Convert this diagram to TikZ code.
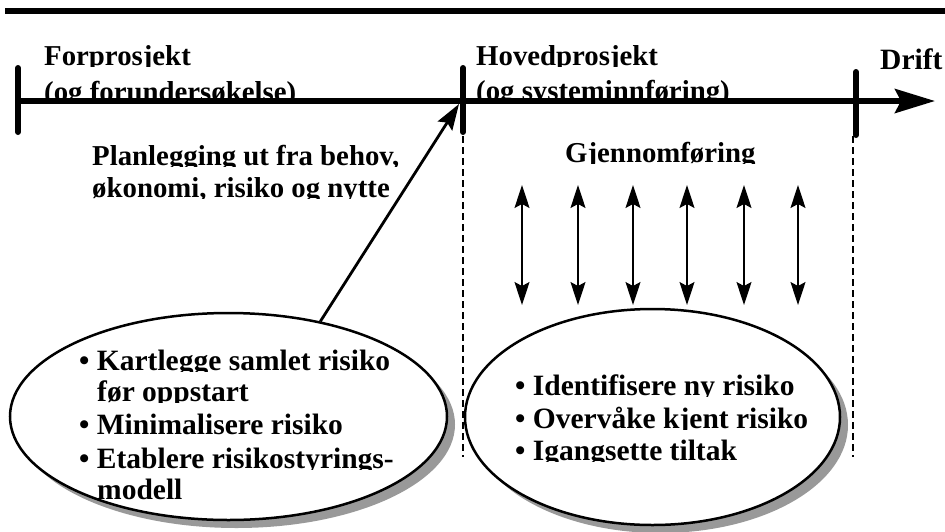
\documentclass[tikz,border=0pt]{standalone}
\usepackage{fontspec}
\setmainfont{Liberation Serif}
\usetikzlibrary{arrows.meta,shapes.geometric,shadows}
\newcommand\cliptxt[5]{%
  \begin{scope}
    \clip (#2-20,#3-45) rectangle (#2+440,#3+1.5);
    \node[#4] (#1) at (#2,#3) {#5};
  \end{scope}}
\begin{document}
\begin{tikzpicture}[x=1pt,y=-1pt,
  lbl/.style={anchor=base west,inner sep=0pt,font=\fontsize{28.8}{30}\selectfont\bfseries},
  elltxt/.style={anchor=base west,inner sep=0pt,font=\fontsize{29.5}{30}\selectfont\bfseries},
  tick/.style={line width=6pt,line cap=round},
  dashline/.style={line width=1.5pt,dash pattern=on 7pt off 4pt},
  bubble/.style={ellipse,draw,line width=2.5pt,fill=white,inner sep=0pt,
    drop shadow={shadow xshift=8pt,shadow yshift=-8pt,fill=black!40,opacity=1}},
  dbl/.style={line width=1.3pt,{Stealth[length=23pt,width=15pt,inset=4pt]}-{Stealth[length=23pt,width=15pt,inset=4pt]}}
]
\useasboundingbox (0,0) rectangle (945,531);
\fill[white] (0,0) rectangle (945,531);
% top bar
\fill[black] (5,8) rectangle (945,14);

% labels above the timeline
\cliptxt{lforp}{44}{65}{lbl}{Forprosjekt}
\cliptxt{lforu}{44}{101}{lbl}{(og forundersøkelse)}
\cliptxt{lhov}{476}{65}{lbl}{Hovedprosjekt}
\cliptxt{lsys}{476}{100}{lbl}{(og systeminnføring)}
\node[lbl,font=\fontsize{29.5}{30}\selectfont\bfseries] (ldrift) at (880,69) {Drift};

% timeline
\coordinate (t0) at (18,101);
\coordinate (tend) at (935,101);
\draw[line width=5.5pt,-{Stealth[length=40pt,width=24pt,inset=6pt]}] (t0) -- (tend);
\coordinate (k1a) at (18,68);  \coordinate (k1b) at (18,132);
\coordinate (k2a) at (463,68); \coordinate (k2b) at (463,132);
\coordinate (k3a) at (856,72); \coordinate (k3b) at (856,135);
\draw[tick] (k1a) -- (k1b);
\draw[tick] (k2a) -- (k2b);
\draw[tick] (k3a) -- (k3b);

% dashed separators
\coordinate (d1a) at (463,136); \coordinate (d1b) at (463,457);
\coordinate (d2a) at (853,136); \coordinate (d2b) at (853,457);
\draw[dashline] (d1a) -- (d1b);
\draw[dashline] (d2a) -- (d2b);

% planning text
\cliptxt{plan1}{92}{165}{lbl}{Planlegging ut fra behov,}
\cliptxt{plan2}{92}{197}{lbl}{økonomi, risiko og nytte}

% Gjennomføring
\cliptxt{gjen}{565}{162}{lbl}{Gjennomføring}
\foreach \i/\x in {1/522,2/578,3/633,4/687,5/744,6/798}{
  \coordinate (a\i t) at (\x,185);
  \coordinate (a\i b) at (\x,305);
  \draw[dbl] (a\i t) -- (a\i b);
}

% ellipses
\node[bubble,minimum width=437pt,minimum height=207pt] (ell1) at (228.5,416.5) {};
\node[bubble,minimum width=375pt,minimum height=216pt] (ell2) at (652.5,417) {};

% arrow from left ellipse to timeline
\coordinate (hit) at (459,104);
\draw[line width=2.8pt,-{Stealth[length=26pt,width=17pt,inset=4pt]}] (ell1.46) -- (hit);

% left ellipse text
\cliptxt{e1a}{79}{370}{elltxt}{• Kartlegge samlet risiko}
\cliptxt{e1b}{97}{401}{elltxt}{før oppstart}
\cliptxt{e1c}{79}{434}{elltxt}{• Minimalisere risiko}
\cliptxt{e1d}{79}{468}{elltxt}{• Etablere risikostyrings-}
\cliptxt{e1e}{97}{499}{elltxt}{modell}

% right ellipse text
\cliptxt{e2a}{515}{395}{elltxt}{• Identifisere ny risiko}
\cliptxt{e2b}{515}{428}{elltxt}{• Overvåke kjent risiko}
\cliptxt{e2c}{515}{460}{elltxt}{• Igangsette tiltak}
\end{tikzpicture}
\end{document}
